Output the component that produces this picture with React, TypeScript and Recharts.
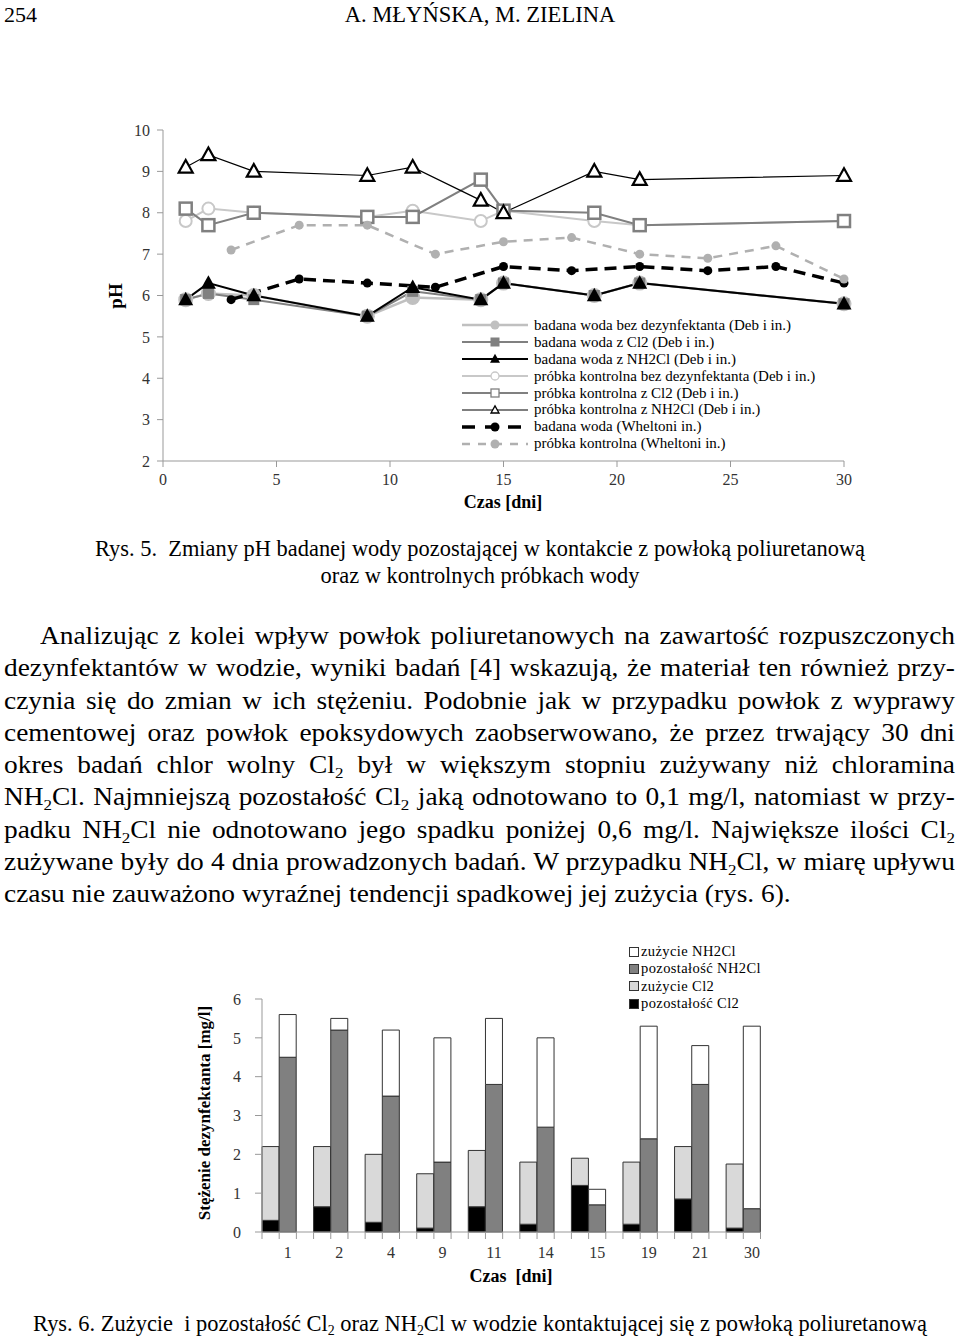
import React from 'react';
import {
  LineChart, Line, BarChart, Bar, XAxis, YAxis, Legend,
} from 'recharts';

// --- Rys. 5: pH vs time ---
const DAYS_DEB = [1, 2, 4, 9, 11, 14, 15, 19, 21, 30];
const PH_WATER_NONE = [5.9, 6.05, 6.0, 5.5, 5.95, 5.9, 6.3, 6.0, 6.3, 5.8];
const PH_WATER_CL2 = [5.9, 6.05, 5.9, 5.5, 6.1, 5.9, 6.3, 6.0, 6.3, 5.8];
const PH_WATER_NH2CL = [5.9, 6.3, 6.0, 5.5, 6.2, 5.9, 6.3, 6.0, 6.3, 5.8];
const PH_CTRL_NONE = [7.8, 8.1, 8.0, 7.9, 8.05, 7.8, 8.05, 7.8, 7.7, 7.8];
const PH_CTRL_CL2 = [8.1, 7.7, 8.0, 7.9, 7.9, 8.8, 8.05, 8.0, 7.7, 7.8];
const PH_CTRL_NH2CL = [9.1, 9.4, 9.0, 8.9, 9.1, 8.3, 8.0, 9.0, 8.8, 8.9];
const DAYS_WH = [3, 6, 9, 12, 15, 18, 21, 24, 27, 30];
const PH_WH_WATER = [5.9, 6.4, 6.3, 6.2, 6.7, 6.6, 6.7, 6.6, 6.7, 6.3];
const PH_WH_CTRL = [7.1, 7.7, 7.7, 7.0, 7.3, 7.4, 7.0, 6.9, 7.2, 6.4];
const PH_X_TICKS = [0, 5, 10, 15, 20, 25, 30];
const PH_Y_TICKS = [2, 3, 4, 5, 6, 7, 8, 9, 10];

const PH_NAMES = [
  'badana woda bez dezynfektanta (Deb i in.)',
  'badana woda z Cl2 (Deb i in.)',
  'badana woda z NH2Cl (Deb i in.)',
  'próbka kontrolna bez dezynfektanta (Deb i in.)',
  'próbka kontrolna z Cl2 (Deb i in.)',
  'próbka kontrolna z NH2Cl (Deb i in.)',
  'badana woda (Wheltoni in.)',
  'próbka kontrolna (Wheltoni in.)',
];

// --- Rys. 6: disinfectant use ---
const DAY_LABELS = ['1', '2', '4', '9', '11', '14', '15', '19', '21', '30'];
const CL2_LEFT = [0.3, 0.65, 0.25, 0.1, 0.65, 0.2, 1.2, 0.2, 0.85, 0.1];
const CL2_USED = [1.9, 1.55, 1.75, 1.4, 1.45, 1.6, 0.7, 1.6, 1.35, 1.65];
const NH2CL_LEFT = [4.5, 5.2, 3.5, 1.8, 3.8, 2.7, 0.7, 2.4, 3.8, 0.6];
const NH2CL_USED = [1.1, 0.3, 1.7, 3.2, 1.7, 2.3, 0.4, 2.9, 1.0, 4.7];
const CONC_TICKS = [0, 1, 2, 3, 4, 5, 6];

const FONT = '"Liberation Serif", "Times New Roman", serif';

const toRows = (days: number[], vals: number[]) => days.map((d, i) => ({ day: d, ph: vals[i] }));

// three slots per day: Cl2 bar, NH2Cl bar, gap (no gap after the last one)
const barRows: any[] = [];
DAY_LABELS.forEach((d, i) => {
  barRows.push({ slot: `${d}a`, label: '', pozCl2: CL2_LEFT[i], zuzCl2: CL2_USED[i] });
  barRows.push({ slot: `${d}b`, label: d, pozNh: NH2CL_LEFT[i], zuzNh: NH2CL_USED[i] });
  if (i < DAY_LABELS.length - 1) barRows.push({ slot: `${d}c`, label: '' });
});

type MarkProps = { cx?: number; cy?: number; kind: string; fill: string; stroke: string; size: number; sw?: number };

function Mark({ cx, cy, kind, fill, stroke, size, sw = 0 }: MarkProps) {
  if (cx == null || cy == null) return null;
  const h = size / 2;
  if (kind === 'circle') return <circle cx={cx} cy={cy} r={h} fill={fill} stroke={stroke} strokeWidth={sw} />;
  if (kind === 'square') return <rect x={cx - h} y={cy - h} width={size} height={size} fill={fill} stroke={stroke} strokeWidth={sw} />;
  const th = size * 0.9;
  return (
    <polygon
      points={`${cx},${cy - th * 0.58} ${cx + h},${cy + th * 0.42} ${cx - h},${cy + th * 0.42}`}
      fill={fill} stroke={stroke} strokeWidth={sw} strokeLinejoin="miter"
    />
  );
}

const STYLES = [
  { color: '#c0c0c0', width: 2.5, dash: undefined, kind: 'circle', fill: '#c0c0c0', size: 15, sw: 0 },
  { color: '#808080', width: 2, dash: undefined, kind: 'square', fill: '#808080', size: 11, sw: 0 },
  { color: '#000000', width: 2, dash: undefined, kind: 'triangle', fill: '#000000', size: 15, sw: 0 },
  { color: '#c8c8c8', width: 2, dash: undefined, kind: 'circle', fill: '#ffffff', size: 12, sw: 2 },
  { color: '#808080', width: 2, dash: undefined, kind: 'square', fill: '#ffffff', size: 12, sw: 2.5 },
  { color: '#000000', width: 1.2, dash: undefined, kind: 'triangle', fill: '#ffffff', size: 14, sw: 2.2 },
  { color: '#000000', width: 3.5, dash: '12 7', kind: 'circle', fill: '#000000', size: 9, sw: 0 },
  { color: '#b0b0b0', width: 2.5, dash: '9 7', kind: 'circle', fill: '#b0b0b0', size: 9, sw: 0 },
];

const PH_SERIES = [
  toRows(DAYS_DEB, PH_WATER_NONE),
  toRows(DAYS_DEB, PH_WATER_CL2),
  toRows(DAYS_DEB, PH_WATER_NH2CL),
  toRows(DAYS_DEB, PH_CTRL_NONE),
  toRows(DAYS_DEB, PH_CTRL_CL2),
  toRows(DAYS_DEB, PH_CTRL_NH2CL),
  toRows(DAYS_WH, PH_WH_WATER),
  toRows(DAYS_WH, PH_WH_CTRL),
];

const tickStyle = { fontSize: 16, fill: '#333', fontFamily: FONT };

function PhLegend() {
  return (
    <div style={{ fontFamily: FONT, fontSize: 15, color: '#000', lineHeight: '16.9px' }}>
      {PH_NAMES.map((name, i) => {
        const s = STYLES[i];
        const sm = s.sw ? { ...s, size: 8, sw: 1.3 } : { ...s, size: s.kind === 'triangle' ? 10 : 9 };
        return (
          <div key={name} style={{ display: 'flex', alignItems: 'center', height: 16.9, whiteSpace: 'nowrap' }}>
            <svg width={66} height={16} style={{ marginRight: 6, flex: 'none' }}>
              <line x1={0} x2={66} y1={8} y2={8} stroke={s.color} strokeWidth={s.width} strokeDasharray={s.dash ? (i === 6 ? '13 10' : '8 8') : undefined} />
              <Mark cx={33} cy={8} kind={s.kind} fill={sm.fill} stroke={s.color} size={sm.size} sw={sm.sw} />
            </svg>
            <span>{name}</span>
          </div>
        );
      })}
    </div>
  );
}

function PhChart() {
  return (
    <LineChart width={780} height={420} margin={{ top: 20, right: 36, bottom: 39, left: 33 }}>
      <XAxis
        dataKey="day" type="number" domain={[0, 30]} ticks={PH_X_TICKS}
        tick={tickStyle} tickSize={6} tickMargin={7} height={30}
        axisLine={{ stroke: '#999' }} tickLine={{ stroke: '#999' }}
      />
      <YAxis
        type="number" domain={[2, 10]} ticks={PH_Y_TICKS} width={30}
        tick={tickStyle} tickSize={6} tickMargin={7}
        axisLine={{ stroke: '#999' }} tickLine={{ stroke: '#999' }}
      />
      {PH_SERIES.map((rows, i) => {
        const s = STYLES[i];
        return (
          <Line
            key={PH_NAMES[i]} name={PH_NAMES[i]} data={rows} dataKey="ph" type="linear"
            stroke={s.color} strokeWidth={s.width} strokeDasharray={s.dash}
            isAnimationActive={false}
            dot={(p: any) => (
              <Mark key={`m${i}-${p.index}`} cx={p.cx} cy={p.cy} kind={s.kind} fill={s.fill} stroke={s.color} size={s.size} sw={s.sw} />
            )}
            activeDot={false}
          />
        );
      })}
      <Legend
        layout="vertical" align="center" verticalAlign="middle"
        wrapperStyle={{ left: 362, top: 207, width: 420 }}
        content={() => <PhLegend />}
      />
    </LineChart>
  );
}

const BAR_LEGEND = [
  { name: 'zużycie NH2Cl', fill: '#ffffff' },
  { name: 'pozostałość NH2Cl', fill: '#808080' },
  { name: 'zużycie Cl2', fill: '#d9d9d9' },
  { name: 'pozostałość Cl2', fill: '#000000' },
];

function BarLegend() {
  return (
    <div style={{ fontFamily: FONT, fontSize: 14.5, lineHeight: '17.3px', letterSpacing: 0.4 }}>
      {BAR_LEGEND.map((e) => (
        <div key={e.name} style={{ display: 'flex', alignItems: 'center', height: 17.3, whiteSpace: 'nowrap' }}>
          <span style={{ width: 8, height: 8, background: e.fill, border: '1px solid #333', marginRight: 2, flex: 'none' }} />
          <span>{e.name}</span>
        </div>
      ))}
    </div>
  );
}

function SlotTick(props: any) {
  const { x, y, index, payload } = props;
  const count = props.visibleTicksCount || barRows.length;
  const slot = (props.width || 498.5) / count;
  const row = barRows[index] || barRows.find((r) => r.slot === payload.value);
  return (
    <g>
      <line x1={x - slot / 2} x2={x - slot / 2} y1={y} y2={y + 7} stroke="#999" />
      {index === count - 1 && <line x1={x + slot / 2} x2={x + slot / 2} y1={y} y2={y + 7} stroke="#999" />}
      {row && row.label && (
        <text x={x} y={y + 26} textAnchor="middle" fontSize={16} fill="#333" fontFamily={FONT}>{row.label}</text>
      )}
    </g>
  );
}

function ConcChart() {
  return (
    <BarChart
      width={620} height={350} data={barRows}
      margin={{ top: 59, right: 39.5, bottom: 28, left: 52 }}
      barCategoryGap={0} barGap={0}
    >
      <XAxis
        dataKey="slot" interval={0} tick={<SlotTick />} tickLine={false} tickSize={0} tickMargin={0}
        height={30} axisLine={{ stroke: '#999' }}
      />
      <YAxis
        type="number" domain={[0, 6]} ticks={CONC_TICKS} width={30}
        tick={tickStyle} tickSize={7} tickMargin={14}
        axisLine={{ stroke: '#999' }} tickLine={{ stroke: '#999' }}
      />
      <Bar dataKey="pozCl2" stackId="s" fill="#000000" stroke="#333" strokeWidth={1} isAnimationActive={false} />
      <Bar dataKey="zuzCl2" stackId="s" fill="#d9d9d9" stroke="#333" strokeWidth={1} isAnimationActive={false} />
      <Bar dataKey="pozNh" stackId="s" fill="#808080" stroke="#333" strokeWidth={1} isAnimationActive={false} />
      <Bar dataKey="zuzNh" stackId="s" fill="#ffffff" stroke="#333" strokeWidth={1} isAnimationActive={false} />
      <Legend
        layout="vertical" align="center" verticalAlign="middle"
        wrapperStyle={{ left: 449, top: 3, width: 170 }}
        content={() => <BarLegend />}
      />
    </BarChart>
  );
}

const Sub = ({ children }: { children: React.ReactNode }) => (
  <span style={{ fontSize: '0.62em', verticalAlign: '-0.3em', lineHeight: 0 }}>{children}</span>
);

const PARA: React.ReactNode[] = [
  <>Analizując z kolei wpływ powłok poliuretanowych na zawartość rozpuszczonych</>,
  <>dezynfektantów w wodzie, wyniki badań [4] wskazują, że materiał ten również przy-</>,
  <>czynia się do zmian w ich stężeniu. Podobnie jak w przypadku powłok z wyprawy</>,
  <>cementowej oraz powłok epoksydowych zaobserwowano, że przez trwający 30 dni</>,
  <>okres badań chlor wolny Cl<Sub>2</Sub> był w większym stopniu zużywany niż chloramina</>,
  <>NH<Sub>2</Sub>Cl. Najmniejszą pozostałość Cl<Sub>2</Sub> jaką odnotowano to 0,1 mg/l, natomiast w przy-</>,
  <>padku NH<Sub>2</Sub>Cl nie odnotowano jego spadku poniżej 0,6 mg/l. Największe ilości Cl<Sub>2</Sub></>,
  <>zużywane były do 4 dnia prowadzonych badań. W przypadku NH<Sub>2</Sub>Cl, w miarę upływu</>,
  <>czasu nie zauważono wyraźnej tendencji spadkowej jej zużycia (rys. 6).</>,
];

const abs = (left: number, top: number, extra: React.CSSProperties = {}): React.CSSProperties => ({
  position: 'absolute', left, top, ...extra,
});

const PARA_SCALE = 1.095;

export default function App() {
  return (
    <div style={{ position: 'absolute', left: 0, top: 0, width: 960, height: 1337, background: '#fff', fontFamily: FONT, color: '#000', overflow: 'hidden' }}>
      <div style={abs(4, 2, { fontSize: 22, lineHeight: '26px' })}>254</div>
      <div style={abs(0, 2, { width: 960, textAlign: 'center', fontSize: 23, lineHeight: '26px', transform: 'scaleX(0.98)' })}>
        A. MŁYŃSKA, M. ZIELINA
      </div>

      <div style={abs(100, 110)}><PhChart /></div>
      <div style={abs(116, 296, { transform: 'translate(-50%, -50%) rotate(-90deg)', fontSize: 19, fontWeight: 'bold', whiteSpace: 'nowrap' })}>pH</div>
      <div style={abs(503, 502, { transform: 'translate(-50%, -50%)', fontSize: 18, fontWeight: 'bold', whiteSpace: 'nowrap' })}>Czas [dni]</div>

      <div style={abs(0, 535, { width: 960, textAlign: 'center', fontSize: 23, lineHeight: '27px', transform: 'scaleX(0.975)' })}>
        Rys. 5.&nbsp; Zmiany pH badanej wody pozostającej w kontakcie z powłoką poliuretanową<br />
        oraz w kontrolnych próbkach wody
      </div>

      {PARA.map((line, i) => {
        const last = i === PARA.length - 1;
        const left = i === 0 ? 40 : 4;
        return (
          <div
            key={i}
            style={abs(left, 620 + i * 32.25, {
              width: (955 - left) / PARA_SCALE, fontSize: 25, lineHeight: '32px', whiteSpace: 'nowrap',
              textAlign: last ? 'left' : 'justify', textAlignLast: last ? 'left' : 'justify',
              transform: `scaleX(${PARA_SCALE})`, transformOrigin: 'left center',
            })}
          >
            {line}
          </div>
        );
      })}

      <div style={abs(180, 940)}><ConcChart /></div>
      <div style={abs(205, 1113, { transform: 'translate(-50%, -50%) rotate(-90deg)', fontSize: 17, fontWeight: 'bold', whiteSpace: 'nowrap' })}>
        Stężenie dezynfektanta [mg/l]
      </div>
      <div style={abs(511, 1276, { transform: 'translate(-50%, -50%)', fontSize: 18, fontWeight: 'bold', whiteSpace: 'nowrap' })}>Czas&nbsp; [dni]</div>

      <div style={abs(0, 1311, { width: 960, textAlign: 'center', fontSize: 23, lineHeight: '26px', transform: 'scaleX(0.976)' })}>
        Rys. 6. Zużycie&nbsp; i pozostałość Cl<Sub>2</Sub> oraz NH<Sub>2</Sub>Cl w wodzie kontaktującej się z powłoką poliuretanową
      </div>
    </div>
  );
}
